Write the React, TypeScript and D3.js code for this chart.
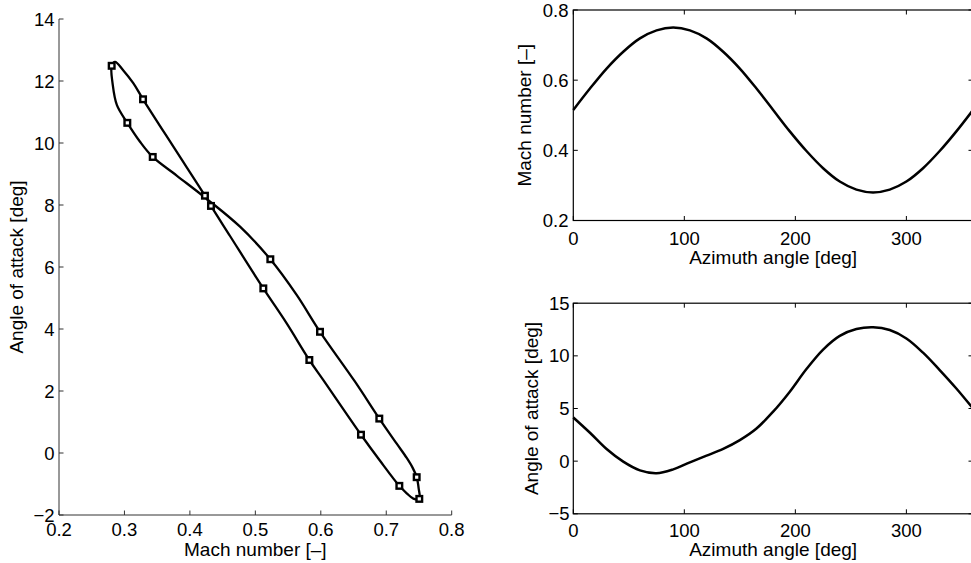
import React from "react";
import * as d3 from "d3";

// ---------- Data ----------
const leftXTicks = [0.2, 0.3, 0.4, 0.5, 0.6, 0.7, 0.8];
const leftYTicks = [-2, 0, 2, 4, 6, 8, 10, 12, 14];
const azTicks = [0, 100, 200, 300];
const machTicks = [0.2, 0.4, 0.6, 0.8];
const aoaTicks = [-5, 0, 5, 10, 15];

// closed hysteresis loop (Mach, AoA)
const loopMach = [
  0.2805, 0.2856, 0.298, 0.3135, 0.3284, 0.376, 0.423, 0.4322, 0.4613, 0.5122,
  0.5479, 0.5825, 0.6039, 0.6614, 0.6905, 0.72, 0.7313, 0.7414, 0.7505, 0.7495,
  0.7465, 0.7404, 0.7313, 0.716, 0.6894, 0.6523, 0.5988, 0.5631, 0.5229, 0.4766,
  0.428, 0.3798, 0.3432, 0.3238, 0.3044, 0.2885, 0.282,
];
const loopAoa = [
  12.49, 12.62, 12.35, 11.93, 11.41, 9.84, 8.3, 7.97, 7.0, 5.31,
  4.18, 3.0, 2.35, 0.59, -0.25, -1.06, -1.3, -1.47, -1.48, -1.14,
  -0.78, -0.48, -0.16, 0.3, 1.11, 2.3, 3.91, 5.1, 6.25, 7.3,
  8.16, 8.95, 9.55, 10.04, 10.65, 11.22, 11.9,
];

// square markers on the loop
const markerMach = [
  0.2805, 0.3284, 0.3044, 0.3432, 0.423, 0.4322, 0.5229, 0.5122, 0.5988, 0.5825,
  0.6894, 0.6614, 0.7465, 0.72, 0.7505,
];
const markerAoa = [
  12.49, 11.41, 10.65, 9.55, 8.3, 7.97, 6.25, 5.31, 3.91, 3.0,
  1.11, 0.59, -0.78, -1.06, -1.48,
];

// azimuth series (right panels)
const azimuth = [
  0, 15, 30, 45, 60, 75, 90, 105, 120, 135, 150, 165, 180, 195, 210, 225, 240,
  255, 270, 285, 300, 315, 330, 345, 360,
];
const machSeries = [
  0.515, 0.576, 0.633, 0.681, 0.719, 0.742, 0.75, 0.742, 0.719, 0.681, 0.633,
  0.576, 0.515, 0.454, 0.398, 0.349, 0.311, 0.288, 0.28, 0.288, 0.311, 0.349,
  0.398, 0.454, 0.515,
];
const aoaSeries = [
  4.15, 2.7, 1.15, -0.05, -0.88, -1.15, -0.78, -0.12, 0.52, 1.17, 2.0, 3.1,
  4.7, 6.6, 8.75, 10.6, 11.9, 12.55, 12.72, 12.45, 11.65, 10.3, 8.65, 6.9, 5.0,
];

// ---------- Layout ----------
const W = 971;
const H = 563;
const FONT = "'Liberation Sans', Arial, Helvetica, sans-serif";
const TICK_FS = 18.5;
const TITLE_FS = 19;
const TL = 4.5;

const leftX = d3.scaleLinear().domain([0.2, 0.8]).range([59, 451.7]);
const leftY = d3.scaleLinear().domain([-2, 14]).range([515, 19]);
const azX = d3.scaleLinear().domain([0, 360]).range([573.3, 973]);
const machY = d3.scaleLinear().domain([0.2, 0.8]).range([220.5, 10]);
const aoaY = d3.scaleLinear().domain([-5, 15]).range([513.8, 303.2]);

const fmtMinus = (v: number, s: string) => (v < 0 ? "\u2212" + s.replace("-", "") : s);

function RightPanel({
  y,
  yTicks,
  series,
  yLabel,
  yFmt,
  xLabelBase,
  xTitleBase,
  yTitleX,
  yLabelRight,
}: {
  y: d3.ScaleLinear<number, number>;
  yTicks: number[];
  series: number[];
  yLabel: string;
  yFmt: (v: number) => string;
  xLabelBase: number;
  xTitleBase: number;
  yTitleX: number;
  yLabelRight: number;
}) {
  const [x0, x1] = azX.range();
  const [yb, yt] = y.range();
  const line = d3
    .line<number>()
    .x((_, i) => azX(azimuth[i]))
    .y((d) => y(d))
    .curve(d3.curveCatmullRom.alpha(0.5));
  return (
    <g>
      <path d={line(series) || ""} fill="none" stroke="#000" strokeWidth={2.5} />
      <rect x={x0} y={yt} width={x1 - x0} height={yb - yt} fill="none" stroke="#000" strokeWidth={1.2} />
      {azTicks.map((t) => (
        <g key={"xt" + t}>
          <line x1={azX(t)} x2={azX(t)} y1={yb} y2={yb - TL} stroke="#000" strokeWidth={1} />
          <line x1={azX(t)} x2={azX(t)} y1={yt} y2={yt + TL} stroke="#000" strokeWidth={1} />
          <text x={azX(t)} y={xLabelBase} textAnchor="middle" fontSize={TICK_FS} fontFamily={FONT} fill="#000">
            {String(t)}
          </text>
        </g>
      ))}
      {yTicks.map((t) => (
        <g key={"yt" + t}>
          <line x1={x0} x2={x0 + TL} y1={y(t)} y2={y(t)} stroke="#000" strokeWidth={1} />
          <line x1={x1} x2={x1 - TL} y1={y(t)} y2={y(t)} stroke="#000" strokeWidth={1} />
          <text x={yLabelRight} y={y(t) + 6.5} textAnchor="end" fontSize={TICK_FS} fontFamily={FONT} fill="#000">
            {yFmt(t)}
          </text>
        </g>
      ))}
      <text x={(x0 + x1) / 2} y={xTitleBase} textAnchor="middle" fontSize={TITLE_FS} fontFamily={FONT} fill="#000">
        Azimuth angle [deg]
      </text>
      <text
        transform={`translate(${yTitleX},${(yb + yt) / 2}) rotate(-90)`}
        textAnchor="middle"
        fontSize={TITLE_FS}
        fontFamily={FONT}
        fill="#000"
      >
        {yLabel}
      </text>
    </g>
  );
}

export default function App() {
  const loopLine = d3
    .line<number>()
    .x((d) => leftX(d))
    .y((_, i) => leftY(loopAoa[i]))
    .curve(d3.curveCatmullRomClosed.alpha(0.5));

  const [lx0, lx1] = leftX.range();
  const [ly0, ly1] = leftY.range();
  const ms = 5.6;

  return (
    <svg
      width={W}
      height={H}
      viewBox={`0 0 ${W} ${H}`}
      style={{ position: "absolute", left: 0, top: 0, background: "#fff" }}
    >
      <rect x={0} y={0} width={W} height={H} fill="#fff" />
      {/* ---------- Left panel ---------- */}
      <g>
        <line x1={lx0} x2={lx0} y1={ly0} y2={ly1} stroke="#333" strokeWidth={1} />
        <line x1={lx0} x2={lx1} y1={ly0} y2={ly0} stroke="#333" strokeWidth={1} />
        {leftXTicks.map((t) => (
          <g key={"lx" + t}>
            <line x1={leftX(t)} x2={leftX(t)} y1={ly0} y2={ly0 - TL} stroke="#333" strokeWidth={1} />
            <text x={leftX(t)} y={536} textAnchor="middle" fontSize={TICK_FS} fontFamily={FONT} fill="#000">
              {t.toFixed(1)}
            </text>
          </g>
        ))}
        {leftYTicks.map((t) => (
          <g key={"ly" + t}>
            <line x1={lx0} x2={lx0 + TL} y1={leftY(t)} y2={leftY(t)} stroke="#333" strokeWidth={1} />
            <text x={54.5} y={leftY(t) + 6.5} textAnchor="end" fontSize={TICK_FS} fontFamily={FONT} fill="#000">
              {fmtMinus(t, String(t))}
            </text>
          </g>
        ))}
        <text x={(lx0 + lx1) / 2} y={556} textAnchor="middle" fontSize={TITLE_FS} fontFamily={FONT} fill="#000">
          Mach number [–]
        </text>
        <text
          transform={`translate(23,${(ly0 + ly1) / 2}) rotate(-90)`}
          textAnchor="middle"
          fontSize={TITLE_FS}
          fontFamily={FONT}
          fill="#000"
        >
          Angle of attack [deg]
        </text>
        <path d={loopLine(loopMach) || ""} fill="none" stroke="#000" strokeWidth={2.3} />
        {markerMach.map((m, i) => (
          <rect
            key={"mk" + i}
            x={leftX(m) - ms / 2}
            y={leftY(markerAoa[i]) - ms / 2}
            width={ms}
            height={ms}
            fill="#fff"
            stroke="#000"
            strokeWidth={2.4}
          />
        ))}
      </g>

      {/* ---------- Top-right panel ---------- */}
      <RightPanel
        y={machY}
        yTicks={machTicks}
        series={machSeries}
        yLabel="Mach number [–]"
        yFmt={(v) => v.toFixed(1)}
        xLabelBase={245}
        xTitleBase={263.5}
        yTitleX={531}
        yLabelRight={568.5}
      />

      {/* ---------- Bottom-right panel ---------- */}
      <RightPanel
        y={aoaY}
        yTicks={aoaTicks}
        series={aoaSeries}
        yLabel="Angle of attack [deg]"
        yFmt={(v) => fmtMinus(v, String(v))}
        xLabelBase={537}
        xTitleBase={555.5}
        yTitleX={538}
        yLabelRight={569.5}
      />
    </svg>
  );
}
